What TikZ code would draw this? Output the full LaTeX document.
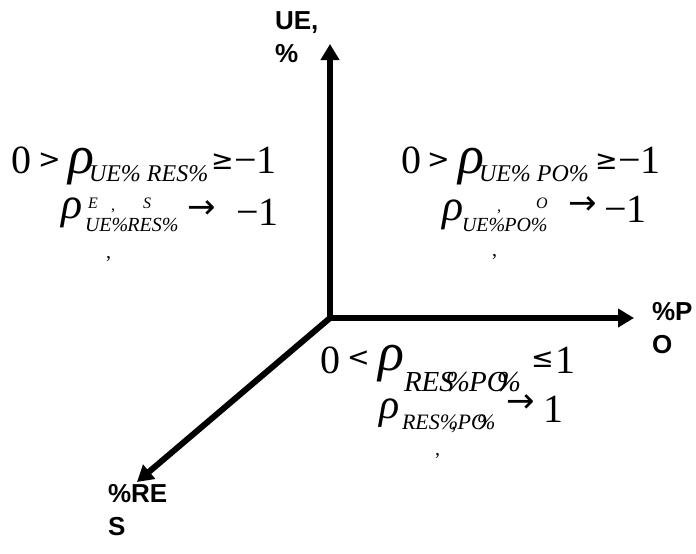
\documentclass[tikz,border=0pt]{standalone}
\usepackage{fontspec}
\setmainfont{Liberation Serif}
\newfontfamily\lsans{Liberation Sans}
\newfontfamily\dsans{DejaVu Sans}
\usetikzlibrary{arrows.meta}
\newcommand{\fs}[1]{\fontsize{#1}{#1}\selectfont}
\begin{document}
\begin{tikzpicture}[x=1pt,y=-1pt,
 axisarrow/.style={line width=6pt,-{Triangle[length=16pt,width=18pt]}},
 ttxt/.style={anchor=base west,inner sep=0pt,outer sep=0pt},
 tbig/.style={ttxt,font=\fs{40}},
 trel/.style={ttxt,font=\dsans\fs{27}},
 trho/.style={ttxt,font=\itshape\fs{54}},
 trhos/.style={ttxt,font=\itshape\fs{44}},
 tsub/.style={ttxt,font=\itshape\fs{24}},
 tsubs/.style={ttxt,font=\itshape\fs{20}},
 tsup/.style={ttxt,font=\itshape\fs{16}},
 tarr/.style={ttxt,font=\dsans\fs{34},text height=0.42em,text depth=0pt},
 tcomma/.style={ttxt,font=\fs{20}},
 tlab/.style={anchor=north west,inner sep=0pt,outer sep=0pt,font=\lsans\bfseries\fontsize{26}{33}\selectfont,align=left},
]
\useasboundingbox[fill=white] (0,0) rectangle (696,554);

% axes
\coordinate (O) at (330,318);
\coordinate (Yt) at (330,44);
\coordinate (Xt) at (634,318);
\coordinate (Zt) at (137,482);
\draw[axisarrow] (O) -- (Yt);
\draw[axisarrow] (O) -- (Xt);
\draw[axisarrow] (O) -- (Zt);

% axis labels
\node[tlab] (ly) at (275,12) {UE,\\\%};
\node[tlab] (lx) at (652,302) {\%P\\O};
\node[tlab] (lz) at (108,484) {\%RE\\S};

% left block
\node[tbig] (l0) at (12,173) {0};
\node[trel] (l1) at (38,168) {>};
\node[trho] (l2) at (68,173) {ρ};
\node[tsub] (l3) at (89,181) {UE\% RES\%};
\node[trel] (l4) at (211,169) {≥};
\node[tbig] (l5) at (234,173) {−1};
\node[trhos] (l6) at (61,218) {ρ};
\node[tsup] (l7) at (88,208) {E};
\node[tsup] (l8) at (111,210) {,};
\node[tsup] (l9) at (143,208) {S};
\node[tsubs] (l10) at (85,231) {UE\%\kern-1pt RES\%};
\node[tarr] (l11) at (187,218) {→};
\node[tbig] (l12) at (236,225) {−1};
\node[tcomma] (l13) at (106,258) {,};

% right block
\node[tbig] (r0) at (401,173) {0};
\node[trel] (r1) at (427,168) {>};
\node[trho] (r2) at (458,173) {ρ};
\node[tsub] (r3) at (479,181) {UE\% PO\%};
\node[trel] (r4) at (595,169) {≥};
\node[tbig] (r5) at (618,173) {−1};
\node[trhos] (r6) at (442,220) {ρ};
\node[tsubs] (r7) at (462,231) {UE\%\kern-1pt PO\%};
\node[tsup] (r8) at (497,211) {,};
\node[tsup] (r9) at (536,208) {O};
\node[tarr] (r10) at (568,214) {→};
\node[tbig] (r11) at (604,222) {−1};
\node[tcomma] (r12) at (492,256) {,};

% bottom block
\node[tbig] (b0) at (320,373) {0};
\node[trel] (b1) at (347,366) {<};
\node[trho] (b2) at (378,370) {ρ};
\node[ttxt,font=\itshape\fs{29},text depth=0pt] (b3) at (404,391) {RES\kern-8pt\%\kern-1pt PO\kern-11pt\%};
\node[trel] (b4) at (531,367) {≤};
\node[tbig] (b5) at (555,373) {1};
\node[ttxt,font=\itshape\fs{42}] (b6) at (379,418) {ρ};
\node[ttxt,font=\itshape\fs{22}] (b7) at (402,429) {RES\%\kern-7pt,\kern1pt PO\kern-10pt\%};
\node[tarr] (b8) at (506,412) {→};
\node[tbig] (b9) at (543,422) {1};
\node[tcomma] (b10) at (435,455) {,};
\end{tikzpicture}
\end{document}
